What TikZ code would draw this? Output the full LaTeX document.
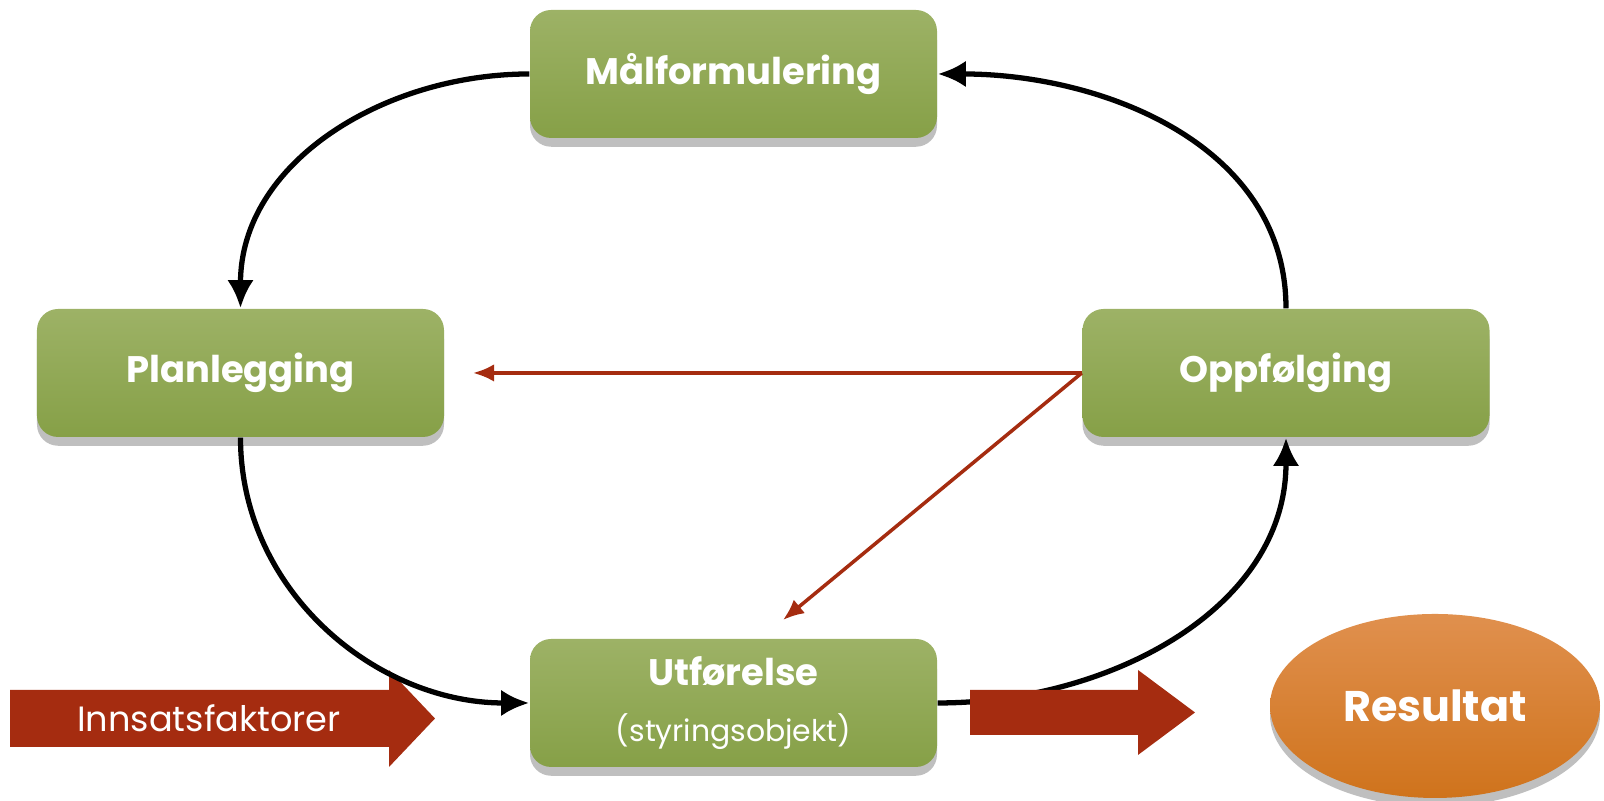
\documentclass[tikz,border=0pt]{standalone}
\usepackage{fontspec}
\setmainfont{Poppins}
\usetikzlibrary{shapes.geometric,shadows,arrows.meta}
\definecolor{boxtop}{HTML}{9DB266}
\definecolor{boxbot}{HTML}{86A047}
\definecolor{rustred}{HTML}{A52C10}
\definecolor{restop}{HTML}{E0904E}
\definecolor{resbot}{HTML}{CF731C}
\tikzset{
	stage/.style={rectangle, rounded corners=6pt, minimum width=4.07cm, minimum height=1.28cm, top color=boxtop, bottom color=boxbot, text=white, align=center, font=\bfseries\fontsize{10.5}{16}\selectfont, drop shadow={shadow xshift=0pt, shadow yshift=-2.5pt, opacity=0.5}},
	result/.style={ellipse, minimum width=3.30cm, minimum height=1.84cm, top color=restop, bottom color=resbot, text=white, font=\bfseries\fontsize{12.2}{15}\selectfont, drop shadow={shadow xshift=0pt, shadow yshift=-2.5pt, opacity=0.5}},
	loopline/.style={line width=1.5pt, -{Latex[length=8pt, width=7.5pt]}},
	feedback/.style={rustred, line width=1pt, -{Latex[length=6pt, width=5pt]}},
}

\begin{document}
\begin{tikzpicture}
	\useasboundingbox (0, 0) rectangle (16.04, 8.01);
	% Boxes, arrows and labels:
	\node[stage] (mal) at (7.335, 7.27){Målformulering};
	\node[stage] (plan) at (2.405, 4.28){Planlegging};
	\node[stage] (oppf) at (12.86, 4.28){Oppfølging};
	\node[stage] (utf) at (7.335, 0.98){Utførelse\\{\mdseries\fontsize{8.5}{12}\selectfont (styringsobjekt)}};
	\node[result] (res) at (14.35, 0.95){Resultat};
	\fill[rustred] (0.10, 1.11) -- (3.89, 1.11) -- (3.89, 1.31) -- (4.35, 0.825) -- (3.89, 0.34) -- (3.89, 0.54) -- (0.10, 0.54) -- cycle;
	\node[text=white, font=\fontsize{10}{12}\selectfont] (innsats) at (2.09, 0.825){Innsatsfaktorer};
	\draw[loopline] (mal.west) to[out=180, in=90] (plan.north);
	\draw[loopline] (plan.south) to[out=-90, in=180] (utf.west);
	\draw[loopline] (utf.east) to[out=0, in=-90] (oppf.south);
	\draw[loopline] (oppf.north) to[out=90, in=0] (mal.east);
	\fill[rustred] (9.70, 1.11) -- (11.38, 1.11) -- (11.38, 1.31) -- (11.95, 0.885) -- (11.38, 0.46) -- (11.38, 0.66) -- (9.70, 0.66) -- cycle;
	\coordinate (fbplan) at (4.73, 4.28);
	\coordinate (fbutf) at (7.83, 1.81);
	\draw[feedback] (oppf.west) -- (fbplan);
	\draw[feedback] (oppf.west) -- (fbutf);
\end{tikzpicture}
\end{document}
